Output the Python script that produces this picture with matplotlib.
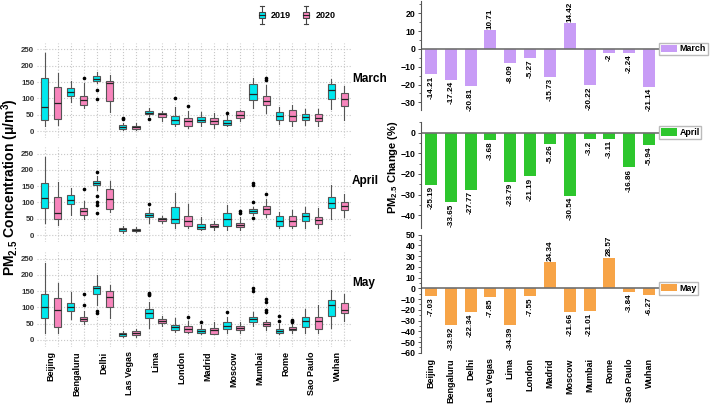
import numpy as np
import matplotlib
matplotlib.use("Agg")
import matplotlib.pyplot as plt
from matplotlib.patches import Rectangle
from matplotlib.lines import Line2D
from matplotlib.legend_handler import HandlerBase

plt.rcParams['font.family'] = ['Liberation Sans', 'DejaVu Sans']
plt.rcParams['font.weight'] = 'bold'
plt.rcParams['mathtext.fontset'] = 'custom'
plt.rcParams['mathtext.rm'] = 'Liberation Sans:bold'
plt.rcParams['mathtext.bf'] = 'Liberation Sans:bold'

cities = ["Beijing", "Bengaluru", "Delhi", "Las Vegas", "Lima", "London",
          "Madrid", "Moscow", "Mumbai", "Rome", "Sao Paulo", "Wuhan"]
months = ["March", "April", "May"]

# box stats per city: (whisker low, q1, median, q3, whisker high)
mar_2019 = [(15, 33, 74, 163, 240), (89, 107, 119, 132, 154), (148, 154, 161, 170, 180),
            (3, 7, 13, 19, 26), (45, 51, 56, 60, 70), (15, 21, 33, 45, 75),
            (14, 28, 35, 43, 57), (14, 17, 25, 33, 50), (70, 95, 112, 145, 163),
            (23, 35, 47, 58, 73), (19, 35, 43, 52, 68), (69, 97, 127, 144, 159)]
mar_2020 = [(19, 36, 85, 136, 179), (70, 79, 95, 107, 148), (58, 91, 147, 154, 172),
            (4, 7, 11, 15, 24), (31, 44, 52, 56, 60), (10, 15, 31, 39, 61),
            (10, 21, 30, 39, 55), (31, 39, 50, 60, 65), (56, 81, 93, 106, 141),
            (14, 31, 45, 64, 80), (15, 31, 41, 53, 68), (35, 76, 97, 117, 138)]
apr_2019 = [(36, 84, 112, 160, 238), (62, 94, 106, 122, 144), (139, 152, 160, 167, 180),
            (6, 13, 17, 20, 27), (37, 56, 62, 68, 82), (20, 38, 48, 86, 130),
            (16, 18, 25, 35, 54), (15, 28, 48, 68, 92), (60, 68, 74, 79, 87),
            (22, 29, 42, 57, 70), (22, 44, 58, 68, 86), (48, 83, 98, 116, 152)]
apr_2020 = [(30, 48, 68, 116, 164), (48, 62, 73, 84, 105), (70, 80, 110, 140, 167),
            (8, 12, 15, 19, 24), (36, 44, 49, 53, 58), (20, 28, 44, 58, 95),
            (15, 24, 29, 33, 44), (15, 24, 30, 37, 54), (56, 64, 80, 89, 110),
            (20, 29, 42, 57, 77), (20, 35, 47, 56, 83), (54, 77, 90, 100, 125)]
may_2019 = [(22, 67, 101, 140, 236), (63, 88, 100, 112, 146), (108, 142, 160, 167, 200),
            (8, 13, 18, 23, 29), (38, 68, 84, 95, 118), (24, 32, 40, 46, 66),
            (17, 23, 28, 33, 46), (21, 33, 44, 56, 70), (44, 56, 63, 70, 87),
            (18, 22, 29, 35, 48), (23, 41, 58, 71, 95), (38, 74, 108, 122, 152)]
may_2020 = [(21, 41, 91, 130, 174), (48, 59, 65, 72, 90), (66, 100, 132, 150, 170),
            (8, 16, 22, 27, 35), (44, 52, 58, 63, 74), (21, 26, 34, 42, 58),
            (17, 19, 30, 38, 56), (21, 30, 36, 42, 56), (30, 42, 50, 55, 61),
            (22, 30, 35, 41, 49), (21, 34, 58, 71, 108), (57, 82, 92, 112, 142)]

# outliers keyed by city index
mar_2019_out = {2: [127, 98], 3: [40, 37], 4: [37], 5: [101], 7: [55]}
mar_2020_out = {1: [163], 5: [76], 8: [155, 162]}
apr_2019_out = {2: [192, 120, 100, 92, 66], 4: [94], 8: [160, 153, 100, 53]}
apr_2020_out = {1: [140], 7: [73, 67], 8: [125]}
may_2019_out = {2: [88, 84], 4: [143, 140, 137], 6: [55], 7: [87], 8: [160, 151], 9: [74, 58]}
may_2020_out = {1: [140, 108], 5: [71], 8: [125, 118, 93, 86], 9: [62, 59, 56]}

march_change = [-14.21, -17.24, -20.81, 10.71, -8.09, -5.27, -15.73, 14.42, -20.22, -2, -2.24, -21.14]
april_change = [-25.19, -33.65, -27.77, -3.68, -23.79, -21.19, -5.26, -30.54, -3.2, -3.11, -16.86, -5.94]
may_change = [-7.03, -33.92, -22.34, -7.85, -34.39, -7.55, 24.34, -21.66, -21.01, 28.57, -3.84, -6.27]

c2019 = '#00E8EE'
c2020 = '#F785BC'
bar_colors = ['#C89CF6', '#2DC62D', '#F7A447']

W, H = 710, 408
fig = plt.figure(figsize=(W / 100, H / 100), dpi=100)


def stats_for(five, outl):
    res = []
    for i, (lo, q1, med, q3, hi) in enumerate(five):
        res.append(dict(whislo=lo, q1=q1, med=med, q3=q3, whishi=hi,
                        fliers=outl.get(i, [])))
    return res


box_data = [(mar_2019, mar_2020, mar_2019_out, mar_2020_out),
            (apr_2019, apr_2020, apr_2019_out, apr_2020_out),
            (may_2019, may_2020, may_2019_out, may_2020_out)]
row_zero = [131, 235, 340]
ppu = 0.326
ylo, yhi = -20, 270

for r, (a, b, oa, ob) in enumerate(box_data):
    top = row_zero[r] - yhi * ppu
    bot = row_zero[r] - ylo * ppu
    ax = fig.add_axes([37 / W, (H - bot) / H, 315 / W, (bot - top) / H])
    pos19 = np.arange(12) * 2
    pos20 = pos19 + 1
    for pos, five, outl, col in [(pos19, a, oa, c2019), (pos20, b, ob, c2020)]:
        ax.bxp(stats_for(five, outl), positions=pos, widths=0.55, patch_artist=True,
               showcaps=False, showfliers=True,
               boxprops=dict(facecolor=col, edgecolor='#555555', linewidth=0.8),
               medianprops=dict(color='#222222', linewidth=0.9),
               whiskerprops=dict(color='#555555', linewidth=0.8),
               flierprops=dict(marker='o', markersize=1.6, markerfacecolor='black',
                               markeredgecolor='black'))
    ax.set_xlim(-0.6, 23.6)
    ax.set_ylim(ylo, yhi)
    ax.set_yticks([0, 50, 100, 150, 200, 250])
    ax.set_xticks(np.arange(24), minor=True)
    ax.set_xticks(np.arange(12) * 2 + 0.5)
    ax.grid(axis='y', which='major', linestyle=':', color='#c8c8c8', linewidth=0.8)
    ax.grid(axis='x', which='minor', linestyle=':', color='#c8c8c8', linewidth=0.8)
    ax.set_axisbelow(True)
    for s in ax.spines.values():
        s.set_visible(False)
    ax.tick_params(axis='y', length=0, labelsize=5.7, pad=2, labelcolor='#333333')
    ax.tick_params(axis='x', which='both', length=0)
    if r == 2:
        ax.set_xticklabels(cities, rotation=90, fontsize=6.5)
    else:
        ax.set_xticklabels([])
    fig.text(352 / W, (H - [79, 181, 283][r]) / H, months[r], fontsize=8.5,
             ha='left', va='center')

fig.text(10 / W, (H - 187) / H, 'PM$_{2.5}$ Concentration (μ/m$^3$)', rotation=90,
         fontsize=10, ha='center', va='center')


class BoxIcon(HandlerBase):
    def create_artists(self, legend, orig_handle, xdescent, ydescent, width, height,
                       fontsize, trans):
        cx = width / 2 - xdescent
        bw = width * 0.8
        lo, hi = -ydescent, height - ydescent
        q1 = lo + height * 0.3
        q3 = lo + height * 0.7
        col = orig_handle.get_facecolor()
        arts = [Line2D([cx, cx], [lo, hi], color='#444444', lw=0.8),
                Line2D([cx - bw / 3, cx + bw / 3], [lo, lo], color='#444444', lw=0.8),
                Line2D([cx - bw / 3, cx + bw / 3], [hi, hi], color='#444444', lw=0.8),
                Rectangle((cx - bw / 2, q1), bw, q3 - q1, facecolor=col,
                          edgecolor='#444444', lw=0.8),
                Line2D([cx - bw / 2, cx + bw / 2], [(q1 + q3) / 2] * 2, color='#222222', lw=0.8)]
        for a_ in arts:
            a_.set_transform(trans)
        return arts


h19 = Rectangle((0, 0), 1, 1, facecolor=c2019)
h20 = Rectangle((0, 0), 1, 1, facecolor=c2020)
fig.legend([h19, h20], ['2019', '2020'], handler_map={Rectangle: BoxIcon()},
           loc='center left', bbox_to_anchor=(250 / W, (H - 15) / H), ncol=2,
           frameon=False, fontsize=6.5, handlelength=0.8, handleheight=2.6,
           columnspacing=1.3, handletextpad=0.6)

# right panel: percentage change bars
changes = [march_change, april_change, may_change]
bar_axes = [((-34, 27), 0.9, 109.5), ((-46, 5), 122.4, 227.5), ((-60, 50), 234.6, 352.8)]
bar_ticks = [np.arange(-30, 21, 10), np.arange(-40, 1, 10), np.arange(-60, 51, 10)]
x = np.arange(12)
for r in range(3):
    (y0, y1), top, bot = bar_axes[r]
    ax = fig.add_axes([421 / W, (H - bot) / H, 238 / W, (bot - top) / H])
    vals = changes[r]
    ax.bar(x, vals, width=0.6, color=bar_colors[r], edgecolor='none', label=months[r])
    ax.axhline(0, color='#707070', linewidth=1.2)
    span = y1 - y0
    for xi, v in zip(x, vals):
        off = span * 0.012
        if v < 0:
            ax.text(xi, v - off, f'{v:g}', rotation=90, ha='center', va='top', fontsize=5.9)
        else:
            ax.text(xi, v + off, f'{v:g}', rotation=90, ha='center', va='bottom', fontsize=5.9)
    ax.set_xlim(-0.5, 11.5)
    ax.set_ylim(y0, y1)
    ax.set_yticks(bar_ticks[r])
    ax.set_yticks(np.arange(bar_ticks[r][0], y1 + 0.1, 5), minor=True)
    for s in ['top', 'right', 'bottom']:
        ax.spines[s].set_visible(False)
    ax.spines['left'].set_color('#555555')
    ax.spines['left'].set_linewidth(0.8)
    ax.tick_params(axis='y', which='major', length=2.5, width=0.7, labelsize=6.3, pad=1.5,
                   color='#555555')
    ax.tick_params(axis='y', which='minor', length=1.5, width=0.6, color='#555555')
    ax.set_xticks(x)
    ax.tick_params(axis='x', length=0)
    if r == 2:
        ax.set_xticklabels(cities, rotation=90, fontsize=6.5)
        ax.tick_params(axis='x', pad=4)
    else:
        ax.set_xticklabels([])
    ax.legend(loc='center left', bbox_to_anchor=(1.0, 0), bbox_transform=ax.get_yaxis_transform(),
              fontsize=6.4, frameon=True, fancybox=False, edgecolor='#aaaaaa',
              handlelength=1.8, handleheight=0.9, borderpad=0.2, handletextpad=0.3,
              borderaxespad=0.0)

fig.text(393 / W, (H - 167) / H, 'PM$_{2.5}$ Change (%)', rotation=90,
         fontsize=8, ha='center', va='center')

fig.savefig('out.png', dpi=100)
